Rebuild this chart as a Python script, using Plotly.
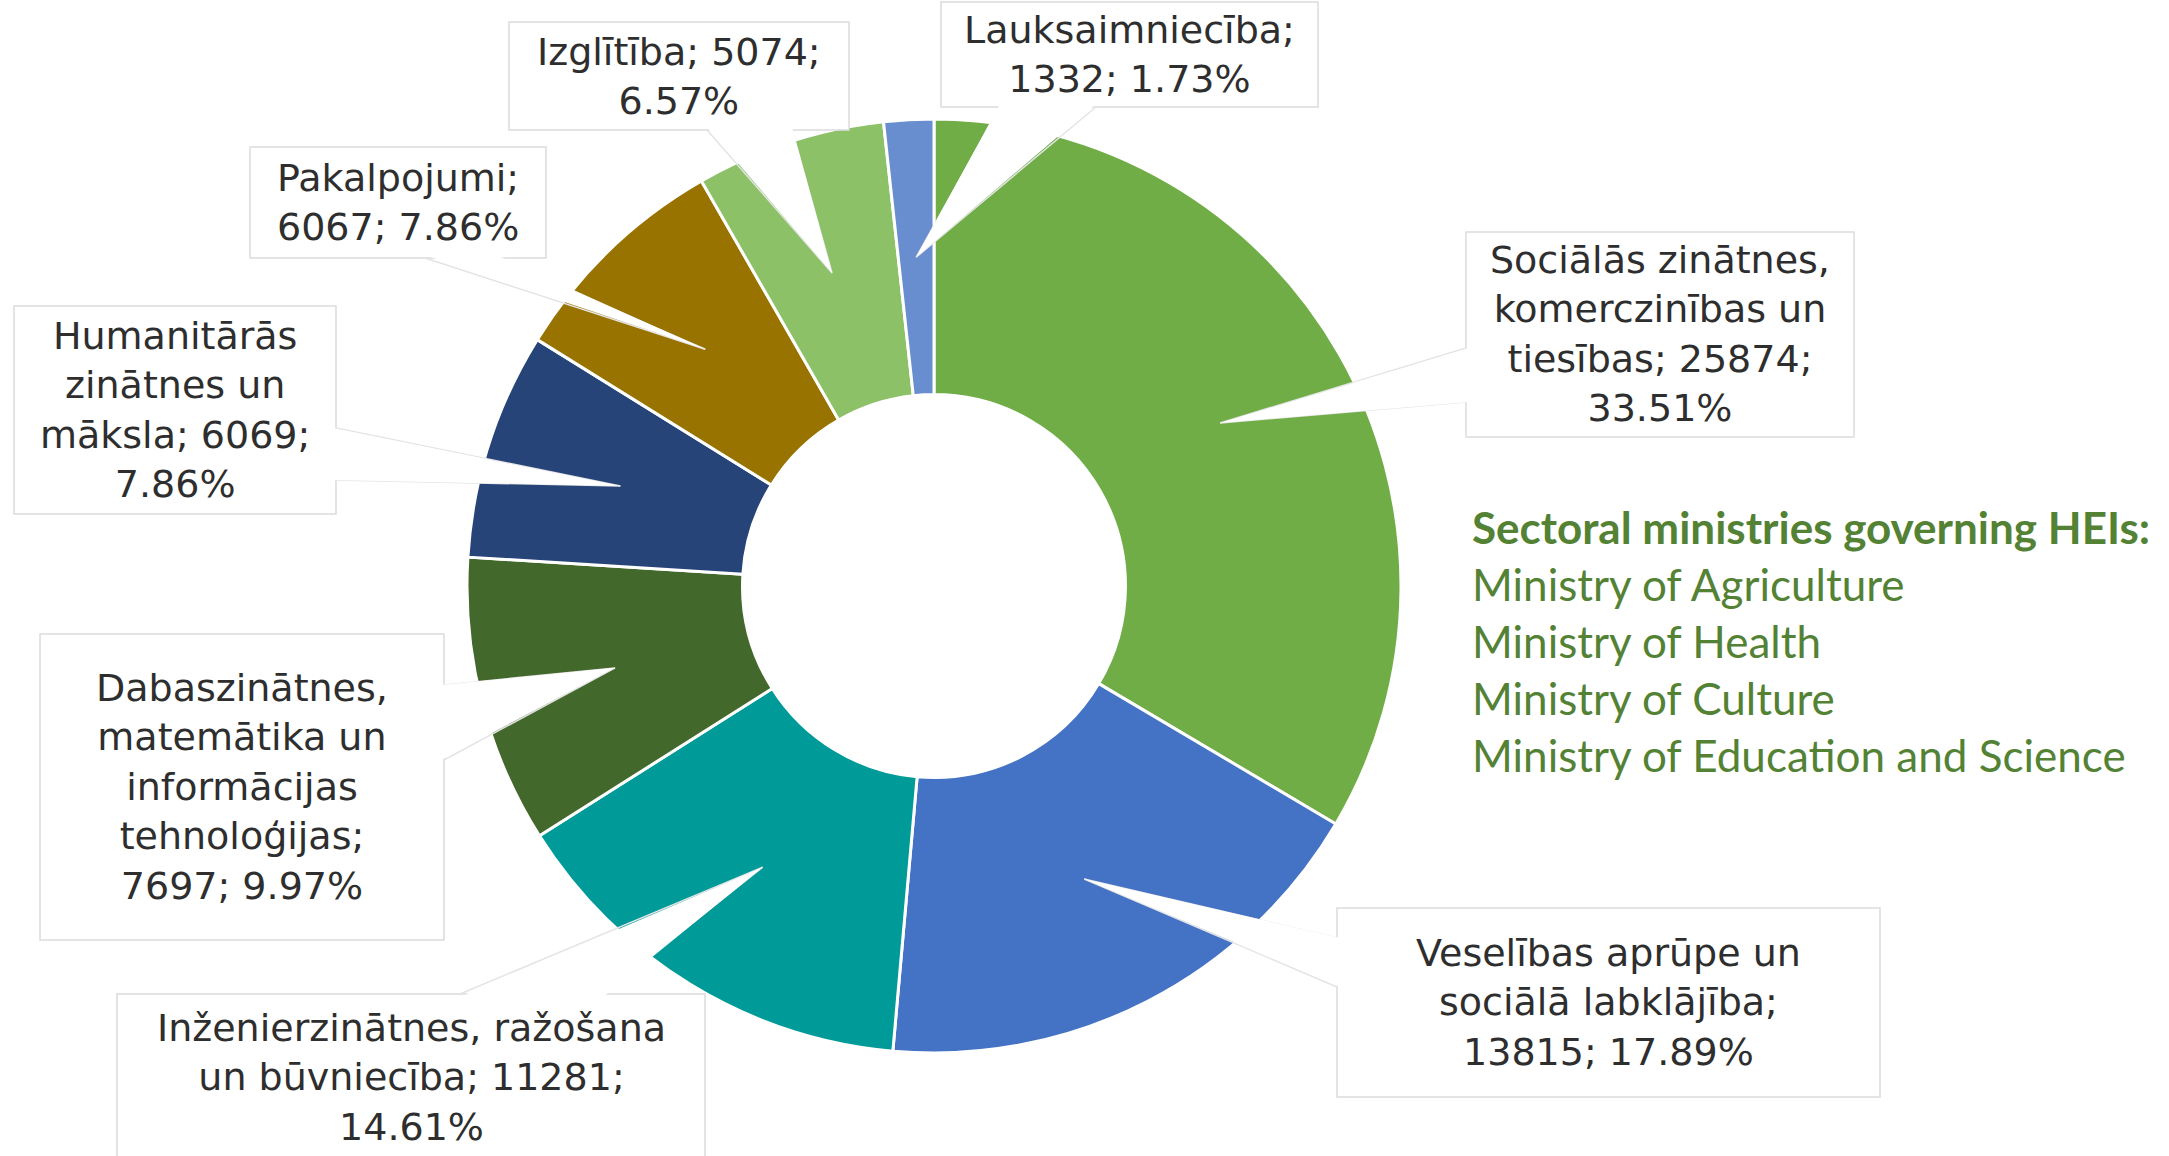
import textwrap
import math
import plotly.graph_objects as go

# ---------------- data ----------------
categories = [
    "Sociālās zinātnes, komerczinības un tiesības",
    "Veselības aprūpe un sociālā labklājība",
    "Inženierzinātnes, ražošana un būvniecība",
    "Dabaszinātnes, matemātika un informācijas tehnoloģijas",
    "Humanitārās zinātnes un māksla",
    "Pakalpojumi",
    "Izglītība",
    "Lauksaimniecība",
]
values = [25874, 13815, 11281, 7697, 6069, 6067, 5074, 1332]
colors = ["#70AD47", "#4472C4", "#009A98", "#43682B", "#264478", "#997300", "#8CC168", "#698ED0"]

side_title = "Sectoral ministries governing HEIs:"
side_lines = ["Ministry of Agriculture", "Ministry of Health", "Ministry of Culture",
              "Ministry of Education and Science"]

# ---------------- layout constants (pixels) ----------------
W, H = 2169, 1156
CX, CY, R = 934, 586, 467
HOLE = 0.41

# label box layout: (x0, y0, x1, y1), wrap width, side of pointer, base (a, b), text centre y
boxes = [
    ((1466, 232, 1854, 437), 18, "left", (348, 402), None),
    ((1337, 908, 1880, 1097), 19, "left", (938, 987), None),
    ((117, 994, 705, 1190), 26, "top", (460, 603), 1077),
    ((40, 634, 444, 940), 14, "right", (685, 760), None),
    ((14, 306, 336, 514), 13, "right", (428, 480), None),
    ((250, 147, 546, 258), 12, "bottom", (425, 496), None),
    ((509, 22, 849, 130), 16, "bottom", (707, 792), None),
    ((941, 2, 1318, 107), 16, "bottom", (1000, 1096), None),
]


def px(x):
    return x / W


def py(y):
    return 1 - y / H


fig = go.Figure()
fig.add_trace(go.Pie(
    labels=categories, values=values, sort=False, direction="clockwise", rotation=0,
    hole=HOLE, textinfo="none", hoverinfo="label+value+percent",
    marker=dict(colors=colors, line=dict(color="white", width=3)),
    domain=dict(x=[px(CX - R), px(CX + R)], y=[py(CY + R), py(CY - R)]),
    showlegend=False,
))

total = sum(values)
shapes = []
annotations = []
cum = 0.0
BORDER = "#DCDCDC"
for cat, val, (box, wrapw, side, base, tcy) in zip(categories, values, boxes):
    frac = val / total
    mid = (cum + frac / 2) * 2 * math.pi
    cum += frac
    rr = R * (1 + HOLE) / 2
    tx = CX + rr * math.sin(mid)
    ty = CY - rr * math.cos(mid)
    x0, y0, x1, y1 = box
    # box
    shapes.append(dict(type="rect", xref="paper", yref="paper", x0=px(x0), x1=px(x1),
                       y0=py(y1), y1=py(y0), fillcolor="white",
                       line=dict(color=BORDER, width=1.5), layer="above"))
    a, b = base
    ins = 3
    if side == "left":
        p1, p2 = (x0 + ins, a), (x0 + ins, b)
        e1, e2 = (x0, a), (x0, b)
    elif side == "right":
        p1, p2 = (x1 - ins, a), (x1 - ins, b)
        e1, e2 = (x1, a), (x1, b)
    elif side == "top":
        p1, p2 = (a, y0 + ins), (b, y0 + ins)
        e1, e2 = (a, y0), (b, y0)
    else:
        p1, p2 = (a, y1 - ins), (b, y1 - ins)
        e1, e2 = (a, y1), (b, y1)
    # wedge edges (faint grey)
    for e in (e1, e2):
        shapes.append(dict(type="line", xref="paper", yref="paper",
                           x0=px(e[0]), y0=py(e[1]), x1=px(tx), y1=py(ty),
                           line=dict(color="#E4E4E4", width=1.5), layer="above"))
    # white wedge fill
    path = (f"M {px(p1[0])},{py(p1[1])} L {px(tx)},{py(ty)} L {px(p2[0])},{py(p2[1])} Z")
    shapes.append(dict(type="path", xref="paper", yref="paper", path=path,
                       fillcolor="white", line=dict(color="rgba(0,0,0,0)", width=0),
                       layer="above"))
    text = f"{cat}; {val}; {frac * 100:.2f}%"
    lines = textwrap.wrap(text, wrapw)
    cy_text = tcy if tcy is not None else (y0 + y1) / 2
    annotations.append(dict(x=px((x0 + x1) / 2), y=py(cy_text), xref="paper", yref="paper",
                            text="<br>".join(lines), showarrow=False,
                            xanchor="center", yanchor="middle", align="center",
                            font=dict(family="DejaVu Sans", size=38, color="#2E2E2E")))

# side text
GREEN = "#548235"
annotations.append(dict(x=px(1470), y=py(527), xref="paper", yref="paper", text=f"<b>{side_title}</b>",
                        showarrow=False, xanchor="left", yanchor="middle",
                        font=dict(family="Lato", size=44, color=GREEN)))
for i, s in enumerate(side_lines):
    annotations.append(dict(x=px(1470), y=py(584 + i * 57), xref="paper", yref="paper", text=s,
                            showarrow=False, xanchor="left", yanchor="middle",
                            font=dict(family="Lato", size=44, color=GREEN)))

fig.update_layout(width=W, height=H, margin=dict(l=0, r=0, t=0, b=0),
                  paper_bgcolor="white", plot_bgcolor="white",
                  shapes=shapes, annotations=annotations)
fig.write_html("out.html", config={"displayModeBar": False},
               post_script="document.body.style.margin='0';")
